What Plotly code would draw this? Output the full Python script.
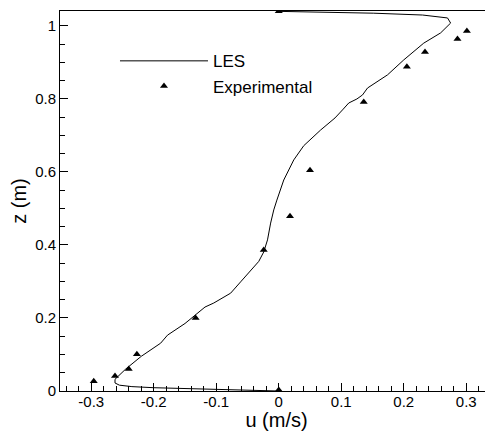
import plotly.graph_objects as go

# LES profile (u in m/s, z in m)
les_u = [0.0, -0.05, -0.10, -0.15, -0.20, -0.235, -0.255, -0.262, -0.262,
         -0.245, -0.22, -0.189, -0.178, -0.150, -0.130, -0.118, -0.104, -0.077,
         -0.061, -0.045, -0.032, -0.024, -0.018, -0.013, -0.008, -0.003,
         0.008, 0.024, 0.040, 0.067, 0.090, 0.102, 0.112, 0.125, 0.134, 0.142,
         0.174, 0.200, 0.216, 0.232, 0.259, 0.275, 0.270, 0.230, 0.152, 0.072, 0.0]
les_z = [0.0, 0.002, 0.004, 0.006, 0.009, 0.012, 0.016, 0.022, 0.032,
         0.060, 0.095, 0.131, 0.153, 0.185, 0.213, 0.230, 0.241, 0.268,
         0.299, 0.330, 0.355, 0.381, 0.414, 0.460, 0.496, 0.523,
         0.578, 0.633, 0.672, 0.715, 0.748, 0.770, 0.789, 0.800, 0.811, 0.830,
         0.866, 0.907, 0.929, 0.953, 0.981, 1.008, 1.022, 1.030, 1.035, 1.038, 1.040]

# Experimental points
exp_u = [0.0, 0.301, 0.286, 0.234, 0.205, 0.136, 0.050, 0.018, -0.024,
         -0.133, -0.227, -0.240, -0.262, -0.296, 0.0]
exp_z = [1.040, 0.986, 0.964, 0.929, 0.888, 0.792, 0.605, 0.479, 0.386,
         0.200, 0.101, 0.060, 0.041, 0.027, 0.003]

x_ticks = [-0.3, -0.2, -0.1, 0, 0.1, 0.2, 0.3]
x_labels = ["-0.3", "-0.2", "-0.1", "0", "0.1", "0.2", "0.3"]
y_ticks = [0, 0.2, 0.4, 0.6, 0.8, 1]
y_labels = ["0", "0.2", "0.4", "0.6", "0.8", "1"]

fig = go.Figure()
fig.add_trace(go.Scatter(x=les_u, y=les_z, mode="lines", name="LES",
                         line=dict(color="black", width=1)))
fig.add_trace(go.Scatter(x=exp_u, y=exp_z, mode="markers", name="Experimental",
                         marker=dict(symbol="triangle-up", size=7, color="black")))

font = "Liberation Sans, Arial, sans-serif"
# The page body has an 8px margin, so the figure is 8px smaller and margins shifted
fig.update_layout(
    width=485, height=423,
    margin=dict(l=52, r=0, t=3, b=40, autoexpand=False),
    paper_bgcolor="white", plot_bgcolor="white",
    font=dict(family=font, color="black", size=15),
    showlegend=True,
    legend=dict(x=0.127, y=0.915, xanchor="left", yanchor="top",
                bgcolor="rgba(0,0,0,0)", font=dict(size=17),
                itemwidth=88, tracegroupgap=0),
    xaxis=dict(range=[-0.35, 0.3428], tickvals=x_ticks, ticktext=x_labels,
               ticks="inside", ticklen=8, tickwidth=1, tickcolor="black",
               showline=True, linecolor="black", linewidth=1, mirror=True,
               showgrid=False, zeroline=False, automargin=False,
               tickfont=dict(size=15), ticklabelstandoff=-3,
               minor=dict(dtick=0.02, tick0=0, ticks="inside", ticklen=5,
                          tickcolor="black", showgrid=False),
               title=dict(text="u (m/s)", font=dict(size=20), standoff=0)),
    yaxis=dict(range=[0, 1.041], tickvals=y_ticks, ticktext=y_labels,
               ticks="inside", ticklen=8, tickwidth=1, tickcolor="black",
               showline=True, linecolor="black", linewidth=1, mirror=False,
               showgrid=False, zeroline=False, automargin=True,
               tickfont=dict(size=15),
               minor=dict(dtick=0.05, tick0=0, ticks="inside", ticklen=5,
                          tickcolor="black", showgrid=False),
               title=dict(text="z (m)", font=dict(size=20), standoff=8)),
)

fig.write_html("out.html")
